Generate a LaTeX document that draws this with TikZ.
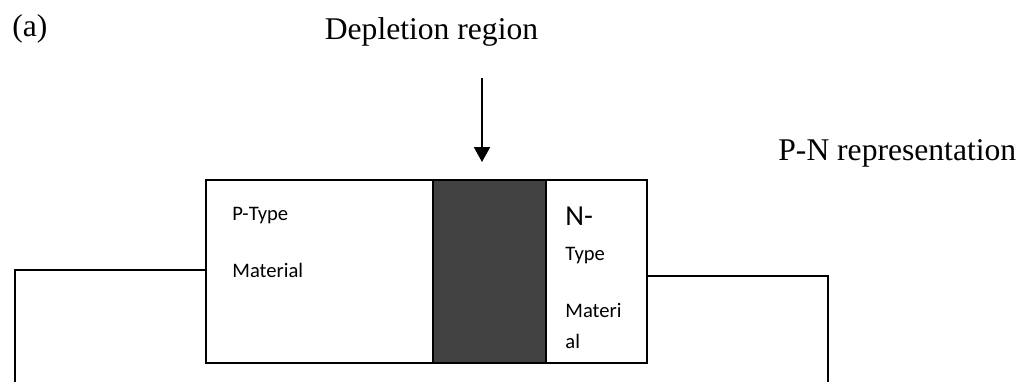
\documentclass[tikz,border=0pt]{standalone}
\usepackage{fontspec}
\setmainfont{Liberation Serif}
\newfontfamily\calfont{Carlito}
\usetikzlibrary{arrows.meta}
\newcommand\boxTop{202}
\newcommand\boxBot{19}
\newcommand\pLeft{206}
\newcommand\depLeft{433}
\newcommand\depRight{546}
\newcommand\nRight{647}
\newcommand\wireL{15}
\newcommand\wireR{828}
\tikzset{
  region/.style={draw=black, line width=1.3pt, minimum height=(\boxTop-\boxBot)*0.5pt, inner sep=0pt, outer sep=0pt},
  wire/.style={draw=black, line width=1pt},
  lbl/.style={font=\fontsize{15.8}{18}\selectfont, inner sep=0pt},
  mat/.style={font=\calfont\fontsize{10.3}{12}\selectfont, anchor=base west, inner sep=0pt}
}

\begin{document}
\begin{tikzpicture}[x=0.5pt,y=0.5pt]
    \useasboundingbox (0,0) rectangle (1028,382);

    % TITLES
    \node[lbl, anchor=base west] (tag) at (12,346) {(a)};
    \node[lbl, anchor=base] (deplbl) at (431.5,343) {Depletion region};
    \node[lbl, anchor=base west] (pnlbl) at (778,222) {P-N representation};

    % THE JUNCTION
    \node[region, fill=white, minimum width=(\depLeft-\pLeft)*0.5pt] (p) at ({(\pLeft+\depLeft)/2},{(\boxTop+\boxBot)/2}) {};
    \node[region, fill=black!74, minimum width=(\depRight-\depLeft)*0.5pt] (dep) at ({(\depLeft+\depRight)/2},{(\boxTop+\boxBot)/2}) {};
    \node[region, fill=white, minimum width=(\nRight-\depRight)*0.5pt] (n) at ({(\depRight+\nRight)/2},{(\boxTop+\boxBot)/2}) {};

    \node[mat] (ptype) at (232,162) {P-Type};
    \node[mat] (pmat) at (232,105) {Material};
    \node[mat, font=\calfont\fontsize{14.5}{16}\selectfont] (nminus) at (565,157) {N-};
    \node[mat] (ntype) at (565,122) {Type};
    \node[mat] (nmat) at (565,65) {Materi};
    \node[mat] (nal) at (565,34) {al};

    % ARROW
    \coordinate (arrtop) at (482,304);
    \coordinate (arrtip) at (482,220);
    \draw[line width=1pt, -{Triangle[length=7.5pt,width=8pt]}] (arrtop) -- (arrtip);

    % WIRES
    \coordinate (lend) at (\wireL,0);
    \coordinate (rend) at (\wireR,0);
    \draw[wire] (p.west |- 0,112) -| (lend);
    \draw[wire] (n.east |- 0,106) -| (rend);

  \end{tikzpicture}
\end{document}
